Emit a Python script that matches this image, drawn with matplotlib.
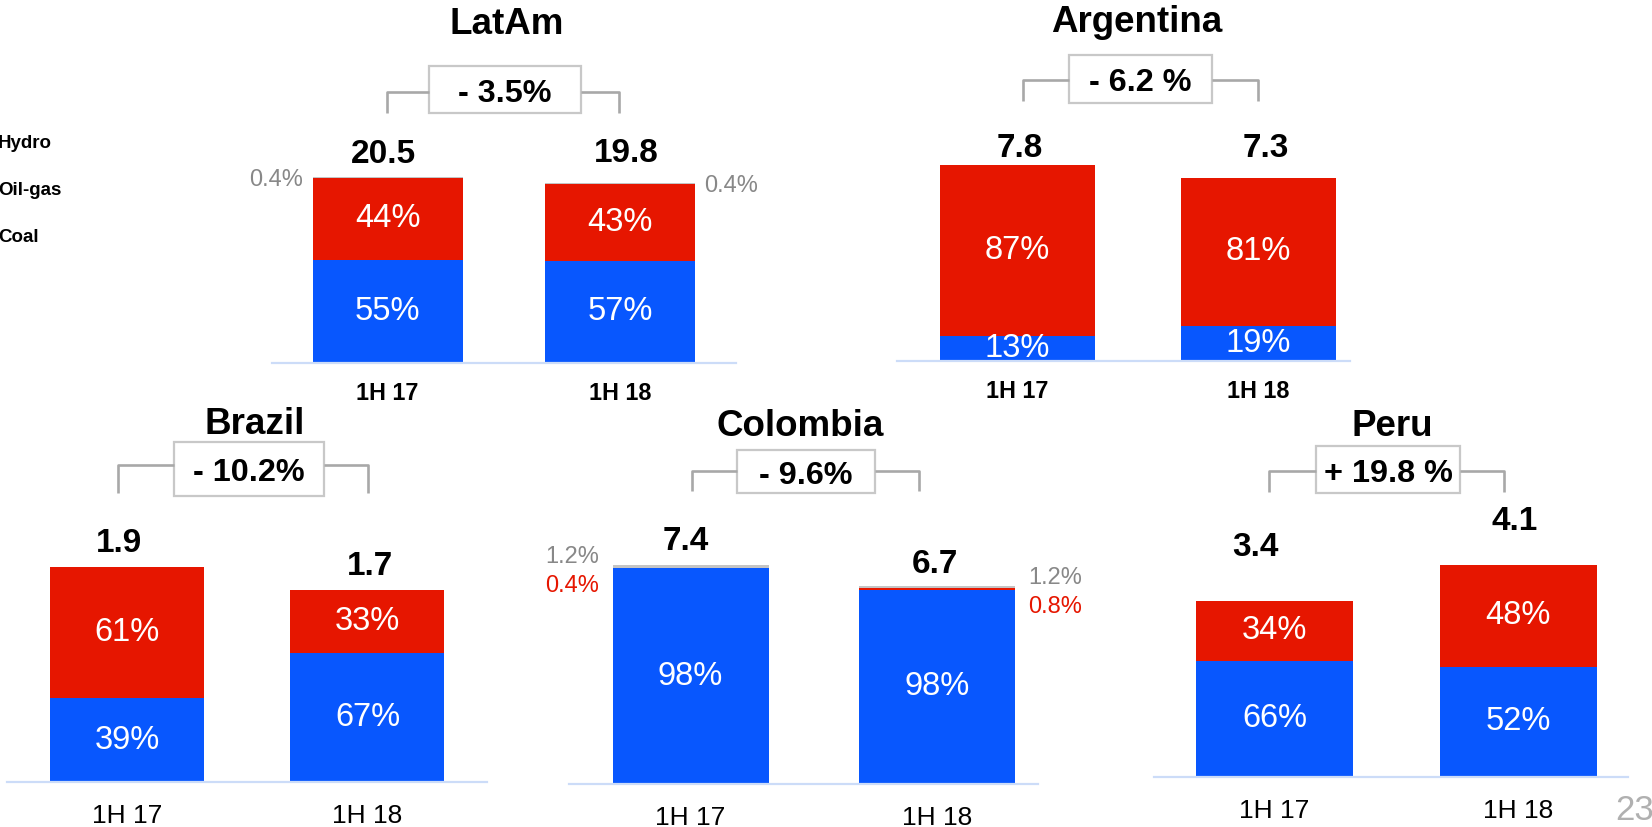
import numpy as np
import matplotlib.pyplot as plt
from matplotlib.patches import Rectangle

plt.rcParams['font.family'] = ['Liberation Sans', 'DejaVu Sans']

# data (TWh and shares in %)
regions = ['LatAm', 'Argentina', 'Brazil', 'Colombia', 'Peru']
periods = ['1H 17', '1H 18']
total_1h17 = [20.5, 7.8, 1.9, 7.4, 3.4]
total_1h18 = [19.8, 7.3, 1.7, 6.7, 4.1]
hydro_1h17 = [55, 13, 39, 98, 66]
hydro_1h18 = [57, 19, 67, 98, 52]
oilgas_1h17 = [44, 87, 61, 0.4, 34]
oilgas_1h18 = [43, 81, 33, 0.8, 48]
coal_1h17 = [0.4, 0, 0, 1.2, 0]
coal_1h18 = [0.4, 0, 0, 1.2, 0]
changes = ['- 3.5%', '- 6.2 %', '- 10.2%', '- 9.6%', '+ 19.8 %']
legend_items = ['Hydro', 'Oil-gas', 'Coal']
page_no = '23'

BLUE = '#0857FE'
RED = '#E61600'
GREY = '#C4C4C4'
AXIS = '#CCDCF8'

W, H = 1652, 827
fig = plt.figure(figsize=(W / 100, H / 100), dpi=100)

# layout in pixels (axis line left/right, bar centres, bar width, baseline, px per unit,
# total-label offsets up / sideways, title centre, bracket and box)
layout = {
    'LatAm':     dict(L=272, R=736, c=(387.5, 620), w=150, y0=363, ppu=9.08, top_row=True,
                      lab=(22, 30), labx=(-4, 6), title=(507, 24),
                      br=(387, 619, 92, 113), box=(429, 66, 581, 113)),
    'Argentina': dict(L=897, R=1350, c=(1017.5, 1258.5), w=155, y0=361, ppu=25.1, top_row=True,
                      lab=(17, 29), labx=(2, 7), title=(1137, 22),
                      br=(1023, 1258, 80, 101), box=(1069, 55, 1212, 103)),
    'Brazil':    dict(L=7, R=487, c=(127, 367.5), w=154, y0=782, ppu=113, top_row=False,
                      lab=(24, 23), labx=(-8, 3), title=(255, 424),
                      br=(118, 368, 465, 493), box=(174, 442, 324, 496)),
    'Colombia':  dict(L=569, R=1038, c=(690.5, 937), w=156, y0=784, ppu=29.6, top_row=False,
                      lab=(23, 21), labx=(-5, -2), title=(800, 427),
                      br=(692, 919, 471, 491), box=(737, 450, 875, 493)),
    'Peru':      dict(L=1154, R=1628, c=(1274.5, 1518), w=157, y0=777, ppu=51.8, top_row=False,
                      lab=(53, 43), labx=(-19, -3), title=(1392, 427),
                      br=(1269, 1504, 471, 492), box=(1316, 446, 1460, 493)),
}

PT = 72 / 100  # points per pixel


def px_axes(l, t, r, b):
    return fig.add_axes([l / W, 1 - b / H, (r - l) / W, (b - t) / H])


for k, reg in enumerate(regions):
    lo = layout[reg]
    top = lo['y0'] - 260
    ax = px_axes(lo['L'], top, lo['R'], lo['y0'])
    unit = lo['c'][1] - lo['c'][0]
    ax.set_xlim((lo['L'] - lo['c'][0]) / unit, (lo['R'] - lo['c'][0]) / unit)
    ax.set_ylim(0, (lo['y0'] - top) / lo['ppu'])
    bw = lo['w'] / unit

    totals = [total_1h17[k], total_1h18[k]]
    hydro = [hydro_1h17[k], hydro_1h18[k]]
    oil = [oilgas_1h17[k], oilgas_1h18[k]]
    coal = [coal_1h17[k], coal_1h18[k]]

    for i in range(2):
        s = hydro[i] + oil[i] + coal[i]
        segs = [(hydro[i], BLUE), (oil[i], RED), (coal[i], GREY)]
        bottom = 0
        for share, col in segs:
            h = totals[i] * share / s
            if h > 0:
                ax.bar(i, h, bw, bottom=bottom, color=col, linewidth=0)
                if share >= 5:
                    ax.text(i, bottom + h / 2, f'{share:.0f}%', color='white',
                            fontsize=23.5, ha='center', va='center')
            bottom += h

        # total label
        ax.annotate(f'{totals[i]:.1f}', (i, totals[i]),
                    xytext=(lo['labx'][i] * PT, lo['lab'][i] * PT),
                    textcoords='offset points', ha='center', va='center',
                    fontsize=24, fontweight='bold', annotation_clip=False)

        # small shares outside the bar
        small = [(coal[i], '#888888'), (oil[i], RED)]
        small = [(v, c) for v, c in small if 0 < v < 5]
        gap = 9 if len(small) == 1 else 13
        if i == 0:
            xo, ha, x_edge = -gap * PT, 'right', i - bw / 2
        else:
            xo, ha, x_edge = gap * PT, 'left', i + bw / 2
        offs = [3] if len(small) == 1 else [-8, 21]
        for (v, c), dy in zip(small, offs):
            ax.annotate(f'{v:.1f}%', (x_edge, totals[i]), xytext=(xo, -dy * PT),
                        textcoords='offset points', ha=ha, va='center',
                        fontsize=17, color=c, annotation_clip=False)

    for sp in ['top', 'left', 'right']:
        ax.spines[sp].set_visible(False)
    ax.spines['bottom'].set_color(AXIS)
    ax.spines['bottom'].set_linewidth(1.6)
    ax.set_yticks([])
    ax.set_xticks([0, 1], periods)
    if lo['top_row']:
        ax.tick_params(axis='x', length=0, pad=14)
    else:
        ax.tick_params(axis='x', length=0, pad=16)
    for t in ax.get_xticklabels():
        if lo['top_row']:
            t.set_fontsize(16.8)
            t.set_fontweight('bold')
        else:
            t.set_fontsize(19)
    ax.patch.set_alpha(0)

# overlay for titles, change brackets, legend, page number
ov = fig.add_axes([0, 0, 1, 1])
ov.set_xlim(0, W)
ov.set_ylim(H, 0)
ov.axis('off')
ov.patch.set_alpha(0)

for k, reg in enumerate(regions):
    lo = layout[reg]
    tx, ty = lo['title']
    ov.text(tx, ty, reg, fontsize=26.5, fontweight='bold', ha='center', va='center')
    xl, xr, yh, yb = lo['br']
    bl, bt, brr, bb = lo['box']
    ov.plot([xl, xl, bl], [yb, yh, yh], color='#A8A8A8', lw=1.9, solid_capstyle='butt')
    ov.plot([brr, xr, xr], [yh, yh, yb], color='#A8A8A8', lw=1.9, solid_capstyle='butt')
    ov.add_patch(Rectangle((bl, bt), brr - bl, bb - bt, facecolor='white',
                           edgecolor='#C8C8C8', lw=1.6))
    ov.text((bl + brr) / 2, (bt + bb) / 2 + 4, changes[k], fontsize=23.3, fontweight='bold',
            ha='center', va='center')

for j, name in enumerate(legend_items):
    ov.text(-2, 144 + 46.5 * j, name, fontsize=13.5, fontweight='bold', ha='left', va='center')

ov.text(1615, 811, page_no, fontsize=25, color='#B0B0B0', ha='left', va='center')

fig.savefig('out.png', dpi=100)
